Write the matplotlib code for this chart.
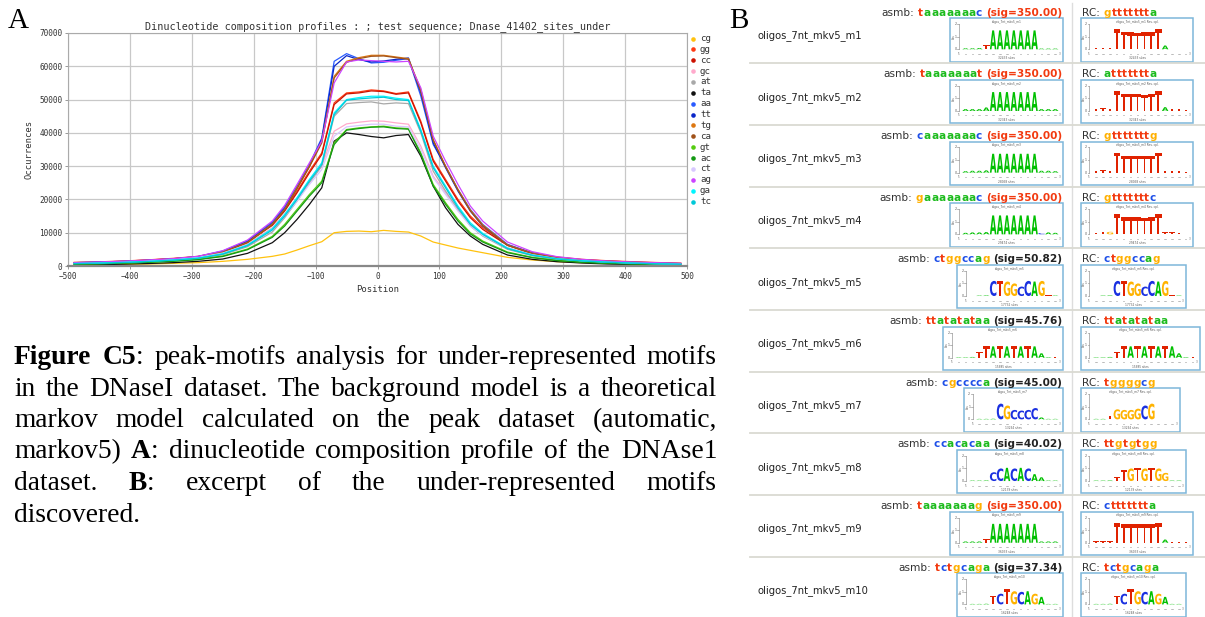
import matplotlib
matplotlib.use('Agg')
import matplotlib.pyplot as plt
from matplotlib.textpath import TextPath
from matplotlib.font_manager import FontProperties, findfont
from matplotlib.patches import PathPatch, Rectangle
from matplotlib.transforms import Affine2D
from matplotlib import ft2font

# ---------------- panel A data ----------------
positions = [-490, -450, -410, -370, -330, -290, -250, -210,
             -170, -150, -130, -110, -90, -70, -50, -30, -10,
             10, 30, 50, 70, 90, 110, 130, 150, 170,
             210, 250, 290, 330, 370, 410, 450, 490]

cg = [300, 400, 500, 600, 800, 1000, 1400, 2000,
      2900, 3600, 4800, 6100, 7300, 10000, 10400, 10500, 10300,
      10700, 10400, 10200, 9000, 7200, 6300, 5400, 4700, 4000,
      2600, 1800, 1300, 1000, 800, 600, 500, 400]
gg = [1100, 1250, 1500, 1850, 2300, 2900, 4400, 7300,
      12500, 16800, 22500, 28500, 34000, 49000, 52000, 52300, 52900,
      52600, 51800, 52300, 43500, 32000, 26000, 20000, 15000, 11500,
      6400, 4000, 2700, 2000, 1600, 1300, 1050, 850]
cc = [1000, 1150, 1450, 1800, 2200, 2800, 4300, 7100,
      12200, 16500, 22000, 28000, 33500, 48500, 51700, 52000, 52600,
      52400, 51600, 52000, 43000, 31500, 25500, 19500, 14500, 11000,
      6200, 3900, 2600, 1900, 1500, 1200, 950, 750]
gc = [950, 1050, 1300, 1650, 2100, 2700, 4000, 6600,
      11500, 15500, 20500, 25500, 30000, 40500, 42700, 43200, 43600,
      43500, 43000, 42600, 36000, 27000, 22000, 17000, 12500, 9500,
      5500, 3500, 2300, 1700, 1300, 1000, 800, 650]
at = [650, 800, 1000, 1300, 1700, 2200, 3400, 5800,
      10200, 14500, 19500, 25000, 30000, 45000, 48800, 49100, 49300,
      48700, 49000, 48800, 40000, 28500, 22500, 17000, 12000, 9000,
      5000, 3100, 2000, 1400, 1000, 800, 600, 450]
ta = [300, 400, 550, 750, 1000, 1400, 2100, 3800,
      7000, 10000, 14000, 18500, 23500, 37500, 40000, 39500, 38900,
      38500, 39200, 39500, 33000, 24000, 17500, 12500, 9000, 6500,
      3300, 2000, 1300, 900, 600, 450, 350, 250]
aa = [1000, 1200, 1400, 1750, 2150, 2850, 4500, 7600,
      13200, 17800, 24000, 30500, 38500, 61500, 63800, 62300, 61000,
      61200, 61800, 62300, 51000, 36500, 30000, 23000, 17000, 12500,
      6500, 3900, 2500, 1800, 1400, 1100, 900, 700]
tt = [900, 1100, 1300, 1650, 2050, 2750, 4300, 7300,
      12800, 17300, 23500, 30000, 38000, 60000, 63200, 62000, 61300,
      61600, 62100, 62500, 52000, 37000, 29500, 22500, 16500, 12000,
      6300, 3800, 2400, 1700, 1300, 1000, 800, 650]
tg = [800, 1000, 1250, 1600, 2000, 2700, 4200, 7100,
      12600, 17000, 23500, 30000, 37500, 57000, 61500, 62600, 63300,
      63300, 62800, 62300, 53000, 38000, 30000, 23000, 16800, 12300,
      6300, 3800, 2500, 1800, 1400, 1100, 900, 700]
ca = [800, 1000, 1200, 1550, 1950, 2650, 4100, 7000,
      12400, 16800, 23200, 29800, 37000, 56500, 61200, 62300, 63000,
      63100, 62600, 62100, 52500, 37800, 29800, 22800, 16600, 12100,
      6200, 3700, 2400, 1700, 1300, 1000, 850, 650]
gt = [550, 700, 900, 1150, 1500, 2000, 3000, 5100,
      8900, 12500, 17000, 21500, 25500, 37000, 41000, 41500, 41800,
      42000, 41500, 41300, 34000, 24500, 19000, 14000, 10000, 7500,
      4200, 2600, 1700, 1200, 900, 700, 550, 400]
ac = [500, 650, 850, 1100, 1400, 1900, 2850, 4900,
      8600, 12000, 16500, 21000, 25000, 36500, 40800, 41300, 41700,
      41800, 41300, 41100, 33500, 24000, 18500, 13500, 9600, 7200,
      4000, 2500, 1600, 1100, 800, 600, 500, 350]
ct = [850, 1000, 1250, 1600, 2000, 2600, 3900, 6400,
      11000, 15000, 19500, 24500, 29000, 39000, 41800, 42200, 42600,
      42600, 42000, 41800, 35000, 26500, 21500, 16500, 12000, 9200,
      5300, 3400, 2200, 1600, 1200, 900, 700, 550]
ag = [1000, 1200, 1450, 1800, 2200, 2900, 4600, 7800,
      13500, 18200, 24500, 31000, 37500, 55000, 61300, 61900, 61700,
      61500, 61300, 61500, 53500, 39000, 31500, 24500, 18000, 13500,
      7200, 4300, 2800, 2000, 1500, 1200, 1000, 800]
ga = [750, 900, 1100, 1400, 1800, 2400, 3700, 6300,
      11200, 15500, 20500, 26000, 31000, 46000, 50000, 50600, 51000,
      51000, 50400, 50000, 41000, 30000, 24000, 18000, 13000, 9800,
      5400, 3300, 2200, 1600, 1200, 900, 700, 550]
tc = [700, 850, 1050, 1350, 1750, 2300, 3550, 6100,
      10800, 15000, 20000, 25500, 30500, 45500, 49800, 50200, 50500,
      50700, 50000, 49700, 40500, 29500, 23500, 17500, 12500, 9500,
      5200, 3200, 2100, 1500, 1100, 850, 650, 500]

series_names = ['cg', 'gg', 'cc', 'gc', 'at', 'ta', 'aa', 'tt',
                'tg', 'ca', 'gt', 'ac', 'ct', 'ag', 'ga', 'tc']
series_values = [cg, gg, cc, gc, at, ta, aa, tt, tg, ca, gt, ac, ct, ag, ga, tc]
series_colors = ['#FFC20E', '#FF3A12', '#CC1100', '#FFAACC', '#A8A8A8', '#111111',
                 '#2A5BFF', '#0A26C8', '#DD7711', '#A0521A', '#55CC11', '#149914',
                 '#D8C8FF', '#CC44FF', '#00F5FF', '#00C8D8']

# ---------------- panel B data ----------------
motif_ids = ['m1', 'm2', 'm3', 'm4', 'm5', 'm6', 'm7', 'm8', 'm9', 'm10']
asmb_seqs = ['taaaaaaac', 'taaaaaaat', 'caaaaaaac', 'gaaaaaaac', 'ctggccag',
             'ttatatataa', 'cgcccca', 'ccacacaa', 'taaaaaaag', 'tctgcaga']
rc_seqs = ['gttttttta', 'attttttta', 'gtttttttg', 'gtttttttc', 'ctggccag',
           'ttatatataa', 'tggggcg', 'ttgtgtgg', 'cttttttta', 'tctgcaga']
sig_values = [350.00, 350.00, 350.00, 350.00, 50.82, 45.76, 45.00, 40.02, 350.00, 37.34]
site_counts = [32433, 32343, 28058, 29474, 17732, 15685, 13294, 12139, 36033, 16248]

asmb_logo = ['AAATAAAAAAAAAA', 'AAAAAAAAAAAAAA', 'AAAAAAAAAAAAAA', 'AAAAAAAAAAACAA',
             'TAACTGGCCAGTA', 'AAATTATATATAAAT', 'AAACGCCCCAAA', 'AAACCACACAAAA',
             'AAATAAAAAAAAAA', 'AAATCTGCAGAAA']
asmb_bits = [
    [0.08, 0.08, 0.1, 0.35, 1.5, 1.5, 1.5, 1.5, 1.5, 1.5, 1.5, 0.06, 0.06, 0.06],
    [0.15, 0.15, 0.15, 0.28, 1.5, 1.5, 1.5, 1.5, 1.5, 1.5, 1.5, 0.15, 0.15, 0.15],
    [0.12, 0.15, 0.15, 0.18, 1.5, 1.5, 1.5, 1.5, 1.5, 1.5, 1.5, 0.15, 0.15, 0.12],
    [0.12, 0.15, 0.15, 0.18, 1.5, 1.5, 1.5, 1.5, 1.5, 1.5, 1.5, 0.1, 0.15, 0.12],
    [0.04, 0.04, 0.05, 1.2, 1.2, 1.15, 1.0, 0.75, 1.2, 1.15, 1.2, 0.05, 0.04],
    [0.04, 0.04, 0.06, 0.45, 0.9, 0.9, 0.9, 0.9, 0.9, 0.9, 0.9, 0.9, 0.35, 0.05, 0.04],
    [0.04, 0.04, 0.05, 1.25, 1.1, 0.75, 0.7, 0.75, 0.9, 0.15, 0.04, 0.04],
    [0.04, 0.04, 0.05, 0.7, 1.0, 1.05, 1.0, 1.05, 1.0, 0.55, 0.3, 0.04, 0.04],
    [0.1, 0.1, 0.1, 0.3, 1.5, 1.5, 1.5, 1.5, 1.5, 1.5, 1.5, 0.1, 0.1, 0.1],
    [0.04, 0.04, 0.05, 0.7, 0.85, 1.2, 1.05, 1.0, 1.05, 0.85, 0.6, 0.04, 0.04],
]
rc_logo = ['TTTTTTTTTTATTT', 'TTTTTTTTTTATTT', 'TTTTTTTTTTTTTT', 'TTGTTTTTTTTTTT',
           'TAACTGGCCAGTA', 'AAATTATATATAAAT', 'AATGGGGCGTTT', 'AAATTGTGTGGAA',
           'TTTTTTTTTTATTT', 'AAATCTGCAGAAA']
rc_bits = [
    [0.08, 0.08, 0.08, 1.6, 1.4, 1.35, 1.3, 1.35, 1.35, 1.6, 0.3, 0.06, 0.06, 0.06],
    [0.18, 0.2, 0.18, 1.6, 1.35, 1.35, 1.35, 1.3, 1.35, 1.6, 0.3, 0.18, 0.15, 0.05],
    [0.15, 0.2, 0.15, 1.6, 1.35, 1.35, 1.35, 1.3, 1.35, 1.6, 0.15, 0.15, 0.12, 0.05],
    [0.12, 0.2, 0.2, 1.6, 1.35, 1.35, 1.35, 1.3, 1.35, 1.6, 0.18, 0.15, 0.12, 0.05],
    [0.04, 0.04, 0.05, 1.2, 1.2, 1.15, 1.0, 0.75, 1.2, 1.15, 1.2, 0.05, 0.04],
    [0.04, 0.04, 0.06, 0.45, 0.9, 0.9, 0.9, 0.9, 0.9, 0.9, 0.9, 0.9, 0.35, 0.05, 0.04],
    [0.04, 0.04, 0.3, 0.8, 0.75, 0.75, 0.85, 1.1, 1.25, 0.05, 0.04, 0.04],
    [0.04, 0.04, 0.05, 0.35, 0.85, 1.0, 1.05, 1.0, 1.05, 1.0, 0.65, 0.04, 0.04],
    [0.1, 0.1, 0.1, 1.55, 1.5, 1.5, 1.5, 1.5, 1.5, 1.55, 0.25, 0.08, 0.08, 0.08],
    [0.04, 0.04, 0.05, 0.7, 0.85, 1.2, 1.05, 1.0, 1.05, 0.85, 0.6, 0.04, 0.04],
]

caption_lines = [
    '*Figure C5*: peak-motifs analysis for under-represented motifs',
    'in the DNaseI dataset. The background model is a theoretical',
    'markov model calculated on the peak dataset (automatic,',
    'markov5) *A*: dinucleotide composition profile of the DNAse1',
    'dataset. *B*: excerpt of the under-represented motifs',
    'discovered.',
]

text_nt_colors = {'a': '#1CBB1C', 'c': '#1F50E8', 'g': '#FFB000', 't': '#F23A10'}
logo_nt_colors = {'A': '#00C000', 'C': '#1A30E0', 'G': '#FFB300', 'T': '#E02200'}

W, H = 1205, 617
MONO = 'DejaVu Sans Mono'
SANS = 'DejaVu Sans'
SERIF = 'Liberation Serif'

_fonts = {}


def advance(text, size, family, weight='normal'):
    key = (family, weight)
    if key not in _fonts:
        _fonts[key] = ft2font.FT2Font(findfont(FontProperties(family=family, weight=weight)))
    f = _fonts[key]
    f.set_size(size, 100)
    return sum(f.load_char(ord(c)).linearHoriAdvance / 65536 for c in text)


_glyphs = {}


def put_letter(ax, ch, x, ybase, w, h, color):
    if h <= 0:
        return
    if ch not in _glyphs:
        p = TextPath((0, 0), ch, size=10, prop=FontProperties(family=SANS, weight='bold'))
        _glyphs[ch] = (p, p.get_extents())
    p, bb = _glyphs[ch]
    tr = Affine2D().translate(-bb.x0, -bb.y0).scale(w / bb.width, -h / bb.height).translate(x, ybase)
    ax.add_patch(PathPatch(tr.transform_path(p), fc=color, ec='none', lw=0))


def draw_logo(ax, x0, y0, letters, bits, title, sites):
    n = len(letters)
    w = 16 + 6.9 * n
    h = 43.4
    ax.add_patch(Rectangle((x0, y0), w, h, fill=False, ec='#7DB7DA', lw=1.1))
    base = y0 + 31
    bit = 12.6
    yax = x0 + 8.7
    ax.plot([yax, yax], [base, base - 2 * bit], color='#999999', lw=0.5)
    for b in (0, 1, 2):
        ax.plot([yax - 1.5, yax], [base - b * bit] * 2, color='#999999', lw=0.5)
        ax.text(yax - 2.3, base - b * bit, str(b), fontsize=2.3, ha='right', va='center', color='#555555')
    ax.text(yax - 5.3, base - bit, 'bits', fontsize=1.9, rotation=90, ha='center', va='center', color='#555555')
    ax.text(x0 + w / 2, y0 + 3.6, title, fontsize=2.1, ha='center', va='center', color='#555555')
    ax.text(x0 + w / 2, y0 + h - 3.4, '%d sites' % sites, fontsize=2.1, ha='center', va='center', color='#555555')
    ax.text(yax, base + 4.5, "5'", fontsize=1.9, ha='center', va='center', color='#666666')
    ax.text(x0 + w - 3, base + 4.5, "3'", fontsize=1.9, ha='center', va='center', color='#666666')
    for i, (ch, v) in enumerate(zip(letters, bits)):
        cx = x0 + 12 + i * 6.9
        put_letter(ax, ch, cx + 0.2, base, 6.5, v * bit, logo_nt_colors[ch])
        ax.plot([cx + 2.5, cx + 4.0], [base + 4.5] * 2, color='#888888', lw=0.4)
    return w


def draw_segments(ax, segs, x, y, size, align='left'):
    # segs: (text, color, weight, gap_after)
    widths = [advance(t, size, SANS, wt) + g for t, c, wt, g in segs]
    if align == 'right':
        x = x - sum(widths) + segs[-1][3]
    for (t, c, wt, g), wd in zip(segs, widths):
        ax.text(x, y, t, fontsize=size, family=SANS, fontweight=wt, color=c, ha='left', va='baseline')
        x += wd


def seq_segs(seq):
    return [(ch, text_nt_colors[ch], 'bold', 0.4) for ch in seq]


fig = plt.figure(figsize=(W / 100, H / 100), dpi=100)
bg = fig.add_axes([0, 0, 1, 1])
bg.set_xlim(0, W)
bg.set_ylim(H, 0)
bg.axis('off')

# ---------------- panel A ----------------
ax = fig.add_axes([68 / W, 1 - 266 / H, 619 / W, 233 / H])
for vals, col in zip(series_values, series_colors):
    ax.plot(positions, vals, color=col, lw=0.9)
ax.set_xlim(-500, 500)
ax.set_ylim(0, 70000)
ax.set_xticks(range(-500, 501, 100))
ax.set_yticks(range(0, 70001, 10000))
ax.grid(True, color='#C8C8C8', lw=0.9)
ax.set_axisbelow(True)
ax.tick_params(labelsize=5.6, length=2, width=0.6, color='#888888', labelcolor='#333333', pad=2)
for lab in ax.get_xticklabels() + ax.get_yticklabels():
    lab.set_family(MONO)
for side in ('top', 'right', 'left'):
    ax.spines[side].set_color('#AAAAAA')
    ax.spines[side].set_linewidth(0.8)
ax.spines['bottom'].set_color('#888888')
ax.spines['bottom'].set_linewidth(1.6)
ax.set_title('Dinucleotide composition profiles : ; test sequence; Dnase_41402_sites_under',
             fontsize=7.3, family=MONO, color='#333333', pad=3)
ax.set_xlabel('Position', fontsize=6.4, family=MONO, color='#333333', labelpad=3)
ax.set_ylabel('Occurrences', fontsize=6.4, family=MONO, color='#333333', labelpad=4)

for i, (name, col) in enumerate(zip(series_names, series_colors)):
    yy = 38.5 + 10.87 * i
    bg.plot([693], [yy], 'o', ms=3.3, color=col, mec='none')
    bg.text(700, yy, name, fontsize=6.6, family=MONO, color='#333333', va='center', ha='left')

bg.text(8, 28, 'A', fontsize=21, family=SERIF, va='baseline', ha='left')
bg.text(729, 28, 'B', fontsize=21, family=SERIF, va='baseline', ha='left')

# ---------------- caption (justified) ----------------
CAP_SIZE = 19.8
cap_x0, cap_x1 = 14, 717
for li, line in enumerate(caption_lines):
    y = 364 + 31.5 * li
    bold = False
    words = []
    for word in line.split(' '):
        segs = []
        cur = ''
        for ch in word:
            if ch == '*':
                if cur:
                    segs.append((cur, bold))
                cur = ''
                bold = not bold
            else:
                cur += ch
        if cur:
            segs.append((cur, bold))
        words.append(segs)
    wlens = [sum(advance(t, CAP_SIZE, SERIF, 'bold' if b else 'normal') for t, b in segs) for segs in words]
    if li == len(caption_lines) - 1 or len(words) == 1:
        gap = advance(' ', CAP_SIZE, SERIF)
    else:
        gap = (cap_x1 - cap_x0 - sum(wlens)) / (len(words) - 1)
    x = cap_x0
    for segs, wl in zip(words, wlens):
        for t, b in segs:
            wt = 'bold' if b else 'normal'
            bg.text(x, y, t, fontsize=CAP_SIZE, family=SERIF, fontweight=wt, va='baseline', ha='left')
            x += advance(t, CAP_SIZE, SERIF, wt)
        x += gap

# ---------------- panel B ----------------
ROW_H = 61.68
bg.plot([1071.7, 1071.7], [3, H], color='#DDDDDD', lw=1.0)
for k in range(1, 10):
    yy = 1.6 + ROW_H * k
    bg.plot([750, W], [yy, yy], color='#DADAD2', lw=1.3)

for k, mid in enumerate(motif_ids):
    top = 1.6 + ROW_H * k
    name = 'oligos_7nt_mkv5_' + mid
    bg.text(758, top + 36.5, name, fontsize=7.2, family=SANS, color='#222222', va='baseline', ha='left')
    sig_col = '#F23A10' if sig_values[k] >= 350 else '#222222'
    segs = [('asmb:', '#333333', 'normal', 4)] + seq_segs(asmb_seqs[k])
    segs[-1] = (segs[-1][0], segs[-1][1], 'bold', 4)
    segs.append(('(sig=%.2f)' % sig_values[k], sig_col, 'bold', 0))
    draw_segments(bg, segs, 1062.5, top + 14, 7.6, align='right')
    segs = [('RC:', '#333333', 'normal', 4)] + seq_segs(rc_seqs[k])
    draw_segments(bg, segs, 1081.7, top + 14, 7.6)

    n = len(asmb_logo[k])
    wbox = 16 + 6.9 * n
    draw_logo(bg, 1062.7 - wbox, top + 16.7, asmb_logo[k], asmb_bits[k], name, site_counts[k])
    draw_logo(bg, 1080.7, top + 16.7, rc_logo[k], rc_bits[k], name + ' Rev. cpl.', site_counts[k])

fig.savefig('out.png', dpi=100)
